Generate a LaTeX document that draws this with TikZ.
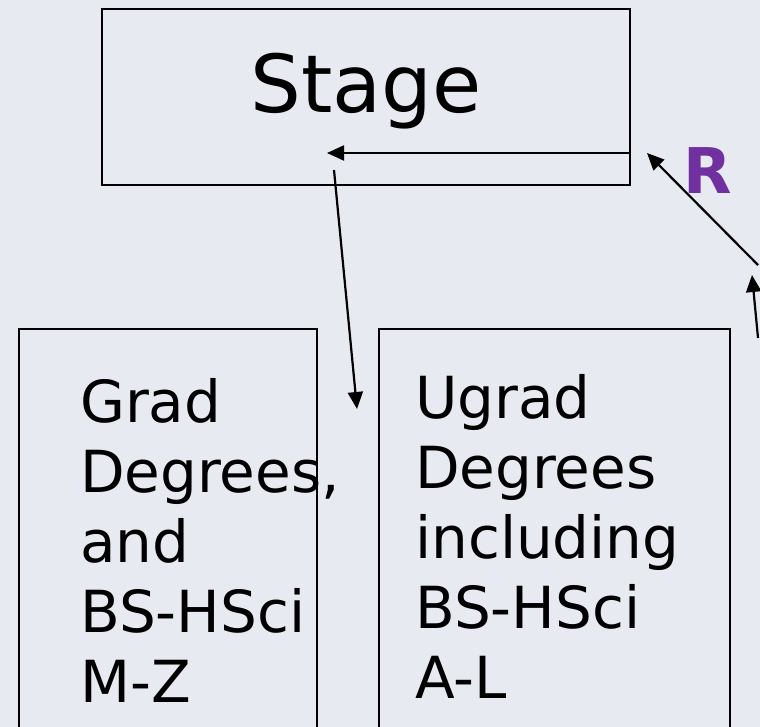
\documentclass[tikz,border=0pt]{standalone}
\usepackage{fontspec}
\setmainfont{DejaVu Sans}
\usetikzlibrary{arrows.meta}
\definecolor{bgblue}{RGB}{231,234,240}
\definecolor{rpurple}{RGB}{112,48,160}
\begin{document}
\begin{tikzpicture}[x=1pt,y=-1pt,
    box/.style={draw,line width=2.2pt,inner sep=0pt},
    arr/.style={line width=2.2pt,-{Triangle[length=17pt,width=15pt]}},
    bigtxt/.style={font=\fontsize{58}{70}\selectfont,align=left,anchor=base west,inner sep=0pt}]
    \fill[bgblue] (0,0) rectangle (760,727);
    \useasboundingbox (0,0) rectangle (760,727);
    \clip (0,0) rectangle (760,727);
    % top box
    \node[box,minimum width=528pt,minimum height=176pt] (stage) at (366,97) {};
    \node[font=\fontsize{80}{90}\selectfont,anchor=base,inner sep=0pt] (stagetxt) at (366,113) {Stage};
    % lower boxes
    \node[box,minimum width=298pt,minimum height=440pt] (grad) at (168,549) {};
    \node[box,minimum width=351pt,minimum height=440pt] (ugrad) at (554.5,549) {};
    \node[bigtxt] (gradtxt) at (80,702) {Grad\\Degrees,\\and\\BS-HSci\\M-Z};
    \node[bigtxt] (ugradtxt) at (415,698) {Ugrad\\Degrees\\including\\BS-HSci\\A-L};
    \node[font=\fontsize{63}{70}\bfseries\selectfont,text=rpurple,anchor=base,inner sep=0pt] (rlbl) at (708,194) {R};
    % arrow ends
    \coordinate (sout) at (630,153);
    \coordinate (sin) at (327,153);
    \coordinate (sdown) at (334,170);
    \coordinate (gap) at (357,409);
    \coordinate (rtop) at (647,153);
    \coordinate (rmid) at (758,265);
    \coordinate (rup) at (752,275);
    \coordinate (rlow) at (758,338);
    \draw[arr] (sout) -- (sin);
    \draw[arr] (sdown) -- (gap);
    \draw[arr] (rmid) -- (rtop);
    \draw[arr] (rlow) -- (rup);
\end{tikzpicture}
\end{document}
